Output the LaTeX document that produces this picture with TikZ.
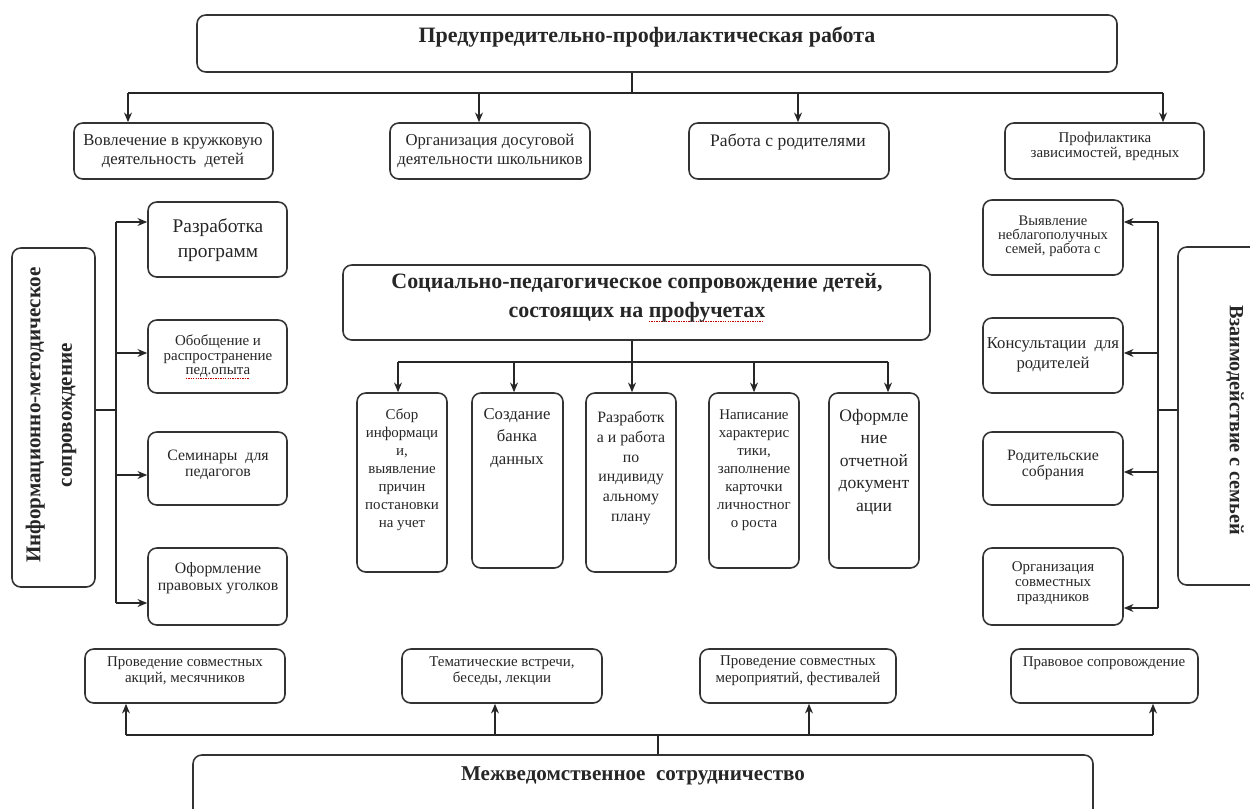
\documentclass[tikz,border=0pt]{standalone}
\usepackage{fontspec}
\setmainfont{Liberation Serif}
\usetikzlibrary{fit,arrows.meta}
\newcommand\redwave[1]{\setbox0\hbox{#1}\rlap{\color{red!75!black}\raisebox{-2.6pt}{\hbox to \wd0{\leaders\hbox{\rule{0.8pt}{0.6pt}\hspace{0.6pt}}\hfill}}}\box0}
\newcommand\fs[2]{\fontsize{#1}{#2}\selectfont}
\begin{document}
\begin{tikzpicture}[x=0.02cm,y=-0.02cm,
  box/.style={draw=black!80, line width=0.9pt, rounded corners=5pt, inner sep=0pt},
  txt/.style={align=center, inner sep=0pt, text=black!85},
  ln/.style={draw=black!85, line width=0.8pt},
  arr/.style={ln, -{Stealth[length=5.5pt,width=4.5pt]}}]
\useasboundingbox (0,0) rectangle (1250,808);

% ---------- top ----------
\node[box, fit={(197,15)(1117,72)}] (top) {};
\node[txt, font=\bfseries\fs{12.5}{15}] (top-t) at (647,37) {Предупредительно-профилактическая работа};

\node[box, fit={(74,123)(273,179)}] (b1) {};
\node[box, fit={(390,123)(590,179)}] (b2) {};
\node[box, fit={(689,123)(889,179)}] (b3) {};
\node[box, fit={(1005,123)(1204,179)}] (b4) {};
\node[txt, font=\fs{9.5}{10.5}] (b1-t) at (173,151) {Вовлечение в кружковую\\деятельность\ \ детей};
\node[txt, font=\fs{9.5}{10.5}] (b2-t) at (490,151) {Организация досуговой\\деятельности школьников};
\node[txt, font=\fs{10}{11}] (b3-t) at (788,142) {Работа с родителями};
\node[txt, font=\fs{8.5}{8.5}] (b4-t) at (1105,146) {Профилактика\\зависимостей, вредных};

\coordinate (tj) at (632,93);
\coordinate (ta1) at (128,93);
\coordinate (ta2) at (479,93);
\coordinate (ta3) at (798,93);
\coordinate (ta4) at (1163,93);
\draw[ln] (top.south -| tj) -- (tj);
\draw[ln] (ta1) -- (ta4);
\foreach \i in {1,...,4} \draw[arr] (ta\i) -- (ta\i |- b\i.north);

% ---------- left ----------
\node[box, fit={(12,248)(95,587)}] (L) {};
\node[txt, rotate=90, font=\bfseries\fs{12}{18}] (L-t) at (51,415) {Информационно-методическое\\сопровождение};

\node[box, fit={(148,202)(287,277)}] (l1) {};
\node[box, fit={(148,320)(287,393)}] (l2) {};
\node[box, fit={(148,432)(287,505)}] (l3) {};
\node[box, fit={(148,548)(287,625)}] (l4) {};
\node[txt, font=\fs{11}{14}] (l1-t) at (218,240) {Разработка\\программ};
\node[txt, font=\fs{8.5}{8.3}] (l2-t) at (218,357) {Обобщение и\\распространение\\\redwave{пед.опыта}};
\node[txt, font=\fs{9}{9.2}] (l3-t) at (218,465) {Семинары\ \ для\\педагогов};
\node[txt, font=\fs{9}{9.5}] (l4-t) at (218,578) {Оформление\\правовых уголков};

\coordinate (lj) at (116,410);
\coordinate (la1) at (116,222);
\coordinate (la2) at (116,353);
\coordinate (la3) at (116,475);
\coordinate (la4) at (116,603);
\draw[ln] (L.east |- lj) -- (lj);
\draw[ln] (la1) -- (la4);
\foreach \i in {1,...,4} \draw[arr] (la\i) -- (la\i -| l\i.west);

% ---------- right ----------
\node[box, fit={(1178,247)(1268,585)}] (R) {};
\node[txt, rotate=-90, font=\bfseries\fs{11.5}{14}] (R-t) at (1235,420) {Взаимодействие с семьей};

\node[box, fit={(983,200)(1123,275)}] (r1) {};
\node[box, fit={(983,318)(1123,393)}] (r2) {};
\node[box, fit={(983,432)(1123,505)}] (r3) {};
\node[box, fit={(983,548)(1123,625)}] (r4) {};
\node[txt, font=\fs{8.3}{8}] (r1-t) at (1053,236) {Выявление\\неблагополучных\\семей, работа с};
\node[txt, font=\fs{9.5}{11.3}] (r2-t) at (1053,355) {Консультации\ \ для\\родителей};
\node[txt, font=\fs{9}{9.2}] (r3-t) at (1053,465) {Родительские\\собрания};
\node[txt, font=\fs{8.5}{8.5}] (r4-t) at (1053,583) {Организация\\совместных\\праздников};

\coordinate (rj) at (1158,410);
\coordinate (ra1) at (1158,222);
\coordinate (ra2) at (1158,353);
\coordinate (ra3) at (1158,472);
\coordinate (ra4) at (1158,608);
\draw[ln] (R.west |- rj) -- (rj);
\draw[ln] (ra1) -- (ra4);
\foreach \i in {1,...,4} \draw[arr] (ra\i) -- (ra\i -| r\i.east);

% ---------- centre ----------
\node[box, fit={(343,265)(930,340)}] (C) {};
\node[txt, font=\bfseries\fs{12.5}{16.5}] (C-t) at (637,298) {Социально-педагогическое сопровождение детей,\\состоящих на \redwave{профучетах}};

\node[box, fit={(357,393)(447,572)}] (c1) {};
\node[box, fit={(472,393)(563,568)}] (c2) {};
\node[box, fit={(586,393)(676,572)}] (c3) {};
\node[box, fit={(709,393)(799,568)}] (c4) {};
\node[box, fit={(829,393)(919,568)}] (c5) {};
\node[txt, font=\fs{8.5}{10.2}] (c1-t) at (402,470) {Сбор\\информаци\\и,\\выявление\\причин\\постановки\\на учет};
\node[txt, font=\fs{9.5}{13}] (c2-t) at (517,438) {Создание\\банка\\данных};
\node[txt, font=\fs{9}{11.3}] (c3-t) at (631,468) {Разработк\\а и работа\\по\\индивиду\\альному\\плану};
\node[txt, font=\fs{8.5}{10.2}] (c4-t) at (754,470) {Написание\\характерис\\тики,\\заполнение\\карточки\\личностног\\о роста};
\node[txt, font=\fs{10}{12.8}] (c5-t) at (874,462) {Оформле\\ние\\отчетной\\документ\\ации};

\coordinate (cj) at (632,362);
\coordinate (ca1) at (398,362);
\coordinate (ca2) at (514,362);
\coordinate (ca3) at (632,362);
\coordinate (ca4) at (754,362);
\coordinate (ca5) at (888,362);
\draw[ln] (C.south -| cj) -- (cj);
\draw[ln] (ca1) -- (ca5);
\foreach \i in {1,...,5} \draw[arr] (ca\i) -- (ca\i |- c\i.north);

% ---------- bottom ----------
\node[box, fit={(193,755)(1093,822)}] (B) {};
\node[txt, font=\bfseries\fs{12}{15}] (B-t) at (633,776) {Межведомственное\ \ сотрудничество};

\node[box, fit={(85,649)(285,703)}] (d1) {};
\node[box, fit={(402,649)(602,703)}] (d2) {};
\node[box, fit={(700,649)(896,703)}] (d3) {};
\node[box, fit={(1011,649)(1198,703)}] (d4) {};
\node[txt, font=\fs{8.5}{9.5}] (d1-t) at (185,671) {Проведение совместных\\акций, месячников};
\node[txt, font=\fs{8.5}{9.5}] (d2-t) at (502,671) {Тематические встречи,\\беседы, лекции};
\node[txt, font=\fs{8.5}{9.5}] (d3-t) at (798,671) {Проведение совместных\\мероприятий, фестивалей};
\node[txt, font=\fs{8.5}{9.5}] (d4-t) at (1104,663) {Правовое сопровождение};

\coordinate (bj) at (658,735);
\coordinate (ba1) at (126,735);
\coordinate (ba2) at (495,735);
\coordinate (ba3) at (809,735);
\coordinate (ba4) at (1153,735);
\draw[ln] (B.north -| bj) -- (bj);
\draw[ln] (ba1) -- (ba4);
\foreach \i in {1,...,4} \draw[arr] (ba\i) -- (ba\i |- d\i.south);
\end{tikzpicture}
\end{document}
